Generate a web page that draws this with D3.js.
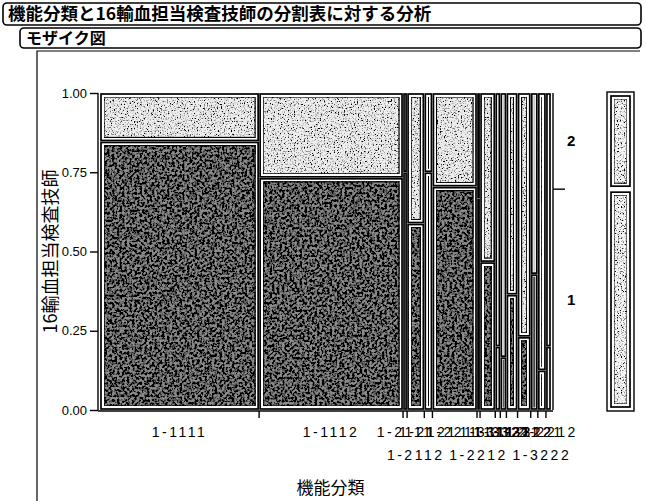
<!DOCTYPE html>
<html>
<head>
<meta charset="utf-8">
<script src="https://cdn.jsdelivr.net/npm/d3@7"></script>
<style>
  body { margin: 0; background: #fff; }
  svg { display: block; font-family: "Liberation Sans", "Noto Sans CJK JP", sans-serif; }
  .jp { font-family: "Noto Sans CJK JP", sans-serif; }
</style>
</head>
<body>
<div id="chart"></div>
<script>
// 機能分類 x 16輸血担当検査技師 mosaic plot

// categories (x axis) and counts for each level of the y variable
var categories = ["1-1111", "1-1112", "1-2111", "1-2112", "1-2121", "1-2211", "1-2212",
  "1-3111", "1-3112", "1-3121", "1-3211", "1-3212", "1-3221", "1-3222", "2-2212"];
var level1 = [133, 104, 3, 10, 6, 31, 2, 7, 1, 1, 4, 3, 3, 1, 1];
var level2 = [24, 38, 1, 7, 2, 13, 1, 8, 4, 5, 7, 10, 4, 7, 4];
var levels = ["1", "2"];
var yTicks = [0, 0.25, 0.5, 0.75, 1];

var width = 646, height = 501;

// plot area
var plot = { left: 100, right: 551, top: 93, bottom: 410 };

var svg = d3.select("#chart").append("svg")
  .attr("width", width)
  .attr("height", height);

// grainy fill like the printed scan
var defs = svg.append("defs");
function grain(id, freq, slope, intercept, seed) {
  var f = defs.append("filter").attr("id", id)
    .attr("x", 0).attr("y", 0).attr("width", 1).attr("height", 1);
  f.append("feTurbulence").attr("type", "fractalNoise")
    .attr("baseFrequency", freq).attr("numOctaves", 2).attr("seed", seed).attr("result", "noise");
  f.append("feColorMatrix").attr("in", "noise").attr("type", "matrix")
    .attr("values", "0 0 0 0 0  0 0 0 0 0  0 0 0 0 0  1 0 0 0 0").attr("result", "a");
  f.append("feComponentTransfer").attr("in", "a").attr("result", "specks")
    .append("feFuncA").attr("type", "linear").attr("slope", slope).attr("intercept", intercept);
  f.append("feComposite").attr("in", "specks").attr("in2", "SourceGraphic")
    .attr("operator", "in").attr("result", "clipped");
  var m = f.append("feMerge");
  m.append("feMergeNode").attr("in", "SourceGraphic");
  m.append("feMergeNode").attr("in", "clipped");
}
grain("grainDark", 0.4, 5, -1.9, 4);
grain("grainLight", 0.7, 5, -2.6, 9);

// header boxes
svg.append("rect").attr("x", 3).attr("y", 3).attr("width", 638).attr("height", 22)
  .attr("rx", 4).attr("fill", "none").attr("stroke", "#000").attr("stroke-width", 1.6);
svg.append("text").attr("class", "jp").attr("x", 8).attr("y", 20)
  .attr("font-size", 17.5).attr("font-weight", "bold")
  .text("機能分類と16輸血担当検査技師の分割表に対する分析");

svg.append("rect").attr("x", 20).attr("y", 28).attr("width", 621).attr("height", 20)
  .attr("rx", 4).attr("fill", "none").attr("stroke", "#000").attr("stroke-width", 1.6);
svg.append("text").attr("class", "jp").attr("x", 26).attr("y", 44)
  .attr("font-size", 16).attr("font-weight", "bold")
  .text("モザイク図");

// outline frame of the report
svg.append("path").attr("d", "M37," + height + "V51H640")
  .attr("fill", "none").attr("stroke", "#000").attr("stroke-width", 1.2);

// Scales
// ==============================
var totals = categories.map(function(c, i) { return level1[i] + level2[i]; });
var grand = d3.sum(totals);
var starts = d3.cumsum([0].concat(totals)).slice(0, -1);

var x = d3.scaleLinear().domain([0, grand]).range([plot.left, plot.right]);
var y = d3.scaleLinear().domain([0, 1]).range([plot.bottom, plot.top]);

var cols = categories.map(function(c, i) {
  return { name: c, x0: starts[i], x1: starts[i] + totals[i], p1: level1[i] / totals[i] };
});

// Cells
// ==============================
var cells = [];
cols.forEach(function(c) {
  cells.push({ x0: c.x0, x1: c.x1, y0: 0, y1: c.p1, lev: 0 });
  cells.push({ x0: c.x0, x1: c.x1, y0: c.p1, y1: 1, lev: 1 });
});

function drawCell(g, px0, px1, py0, py1, filterId) {
  var w = px1 - px0, h = py0 - py1;
  g.append("rect")
    .attr("x", px0 + 1).attr("y", py1 + 1)
    .attr("width", Math.max(w - 2, 0.5)).attr("height", Math.max(h - 2, 0.5))
    .attr("fill", "#fff").attr("stroke", "#000").attr("stroke-width", 1.7);
  if (w > 8 && h > 8) {
    g.append("rect")
      .attr("x", px0 + 4).attr("y", py1 + 4)
      .attr("width", w - 8).attr("height", h - 8)
      .attr("fill", filterId === "grainDark" ? "#8c8c8c" : "#eeeeee")
      .attr("stroke", "#000").attr("stroke-width", 1.2)
      .attr("filter", "url(#" + filterId + ")");
  } else if (w > 4 && h > 4) {
    g.append("rect")
      .attr("x", px0 + 2.5).attr("y", py1 + 2.5)
      .attr("width", w - 5).attr("height", h - 5)
      .attr("fill", filterId === "grainDark" ? "#444" : "#ccc");
  }
}

var cellGroup = svg.append("g");
cells.forEach(function(d) {
  drawCell(cellGroup, x(d.x0), x(d.x1), y(d.y0), y(d.y1), d.lev === 0 ? "grainDark" : "grainLight");
});

// Axes
// ==============================
var leftAxis = d3.axisLeft(y).tickValues(yTicks).tickFormat(d3.format(".2f")).tickSize(8).tickPadding(3);
var gy = svg.append("g").attr("transform", "translate(" + (plot.left - 2) + ",0)").call(leftAxis);
gy.select(".domain").attr("d", "M0," + plot.top + "V" + plot.bottom).attr("stroke-width", 1.4);
gy.selectAll(".tick line").attr("stroke-width", 1.4);
gy.selectAll("text").attr("font-size", 13).attr("font-family", "Liberation Sans, sans-serif").attr("fill", "#000");

// bottom ticks sit on column boundaries
var bounds = starts.slice(1);
var gx = svg.append("g");
gx.append("line").attr("x1", plot.left - 2).attr("x2", plot.right + 2)
  .attr("y1", plot.bottom + 1).attr("y2", plot.bottom + 1).attr("stroke", "#000").attr("stroke-width", 1.4);
gx.selectAll(".bt").data(bounds).enter().append("line")
  .attr("x1", function(d) { return x(d); }).attr("x2", function(d) { return x(d); })
  .attr("y1", plot.bottom + 1).attr("y2", plot.bottom + 8)
  .attr("stroke", "#000").attr("stroke-width", 1.4);

// category labels, staggered into two rows like JMP
var rowEnd = [-Infinity, -Infinity];
cols.forEach(function(c) {
  var cx = x((c.x0 + c.x1) / 2);
  var t = gx.append("text").attr("x", cx).attr("text-anchor", "middle")
    .attr("font-size", 14).attr("letter-spacing", 2.5).text(c.name);
  var w = t.node().getComputedTextLength();
  var row = (cx - w / 2 > rowEnd[0]) ? 0 : (cx - w / 2 > rowEnd[1] ? 1 : 0);
  rowEnd[row] = cx + w / 2 + 2;
  t.attr("y", row === 0 ? 437 : 460);
});

// axis titles
svg.append("text").attr("class", "jp")
  .attr("transform", "translate(57," + ((plot.top + plot.bottom) / 2) + ") rotate(-90)")
  .attr("text-anchor", "middle").attr("font-size", 18)
  .text("16輸血担当検査技師");
svg.append("text").attr("class", "jp")
  .attr("x", (plot.left + plot.right) / 2 + 5).attr("y", 494)
  .attr("text-anchor", "middle").attr("font-size", 17)
  .text("機能分類");

// right axis: level labels from the marginal split
var p1All = d3.sum(level1) / grand;
var marg = [{ y0: 0, y1: p1All, lev: 0 }, { y0: p1All, y1: 1, lev: 1 }];
var rx = plot.right + 2;
svg.append("line").attr("x1", rx).attr("x2", rx).attr("y1", plot.top).attr("y2", plot.bottom)
  .attr("stroke", "#000").attr("stroke-width", 1.4);
svg.append("line").attr("x1", rx).attr("x2", rx + 12).attr("y1", y(p1All)).attr("y2", y(p1All))
  .attr("stroke", "#000").attr("stroke-width", 1.4);
svg.selectAll(".lev").data(marg).enter().append("text")
  .attr("x", rx + 14).attr("y", function(d) { return y((d.y0 + d.y1) / 2) + 5; })
  .attr("font-size", 15).attr("font-weight", "bold")
  .text(function(d) { return levels[d.lev]; });

// marginal bar
var mg = svg.append("g");
mg.append("rect").attr("x", 607).attr("y", plot.top - 1).attr("width", 27).attr("height", plot.bottom - plot.top + 2)
  .attr("fill", "#fff").attr("stroke", "#000").attr("stroke-width", 1.4);
marg.forEach(function(d) {
  var py0 = y(d.y0), py1 = y(d.y1);
  mg.append("rect").attr("x", 611).attr("y", py1 + 3).attr("width", 19).attr("height", py0 - py1 - 6)
    .attr("fill", "#fff").attr("stroke", "#000").attr("stroke-width", 1.7);
  mg.append("rect").attr("x", 614).attr("y", py1 + 6).attr("width", 13).attr("height", py0 - py1 - 12)
    .attr("fill", "#f6f6f6").attr("stroke", "#000").attr("stroke-width", 1)
    .attr("filter", "url(#grainLight)");
});
</script>
</body>
</html>
